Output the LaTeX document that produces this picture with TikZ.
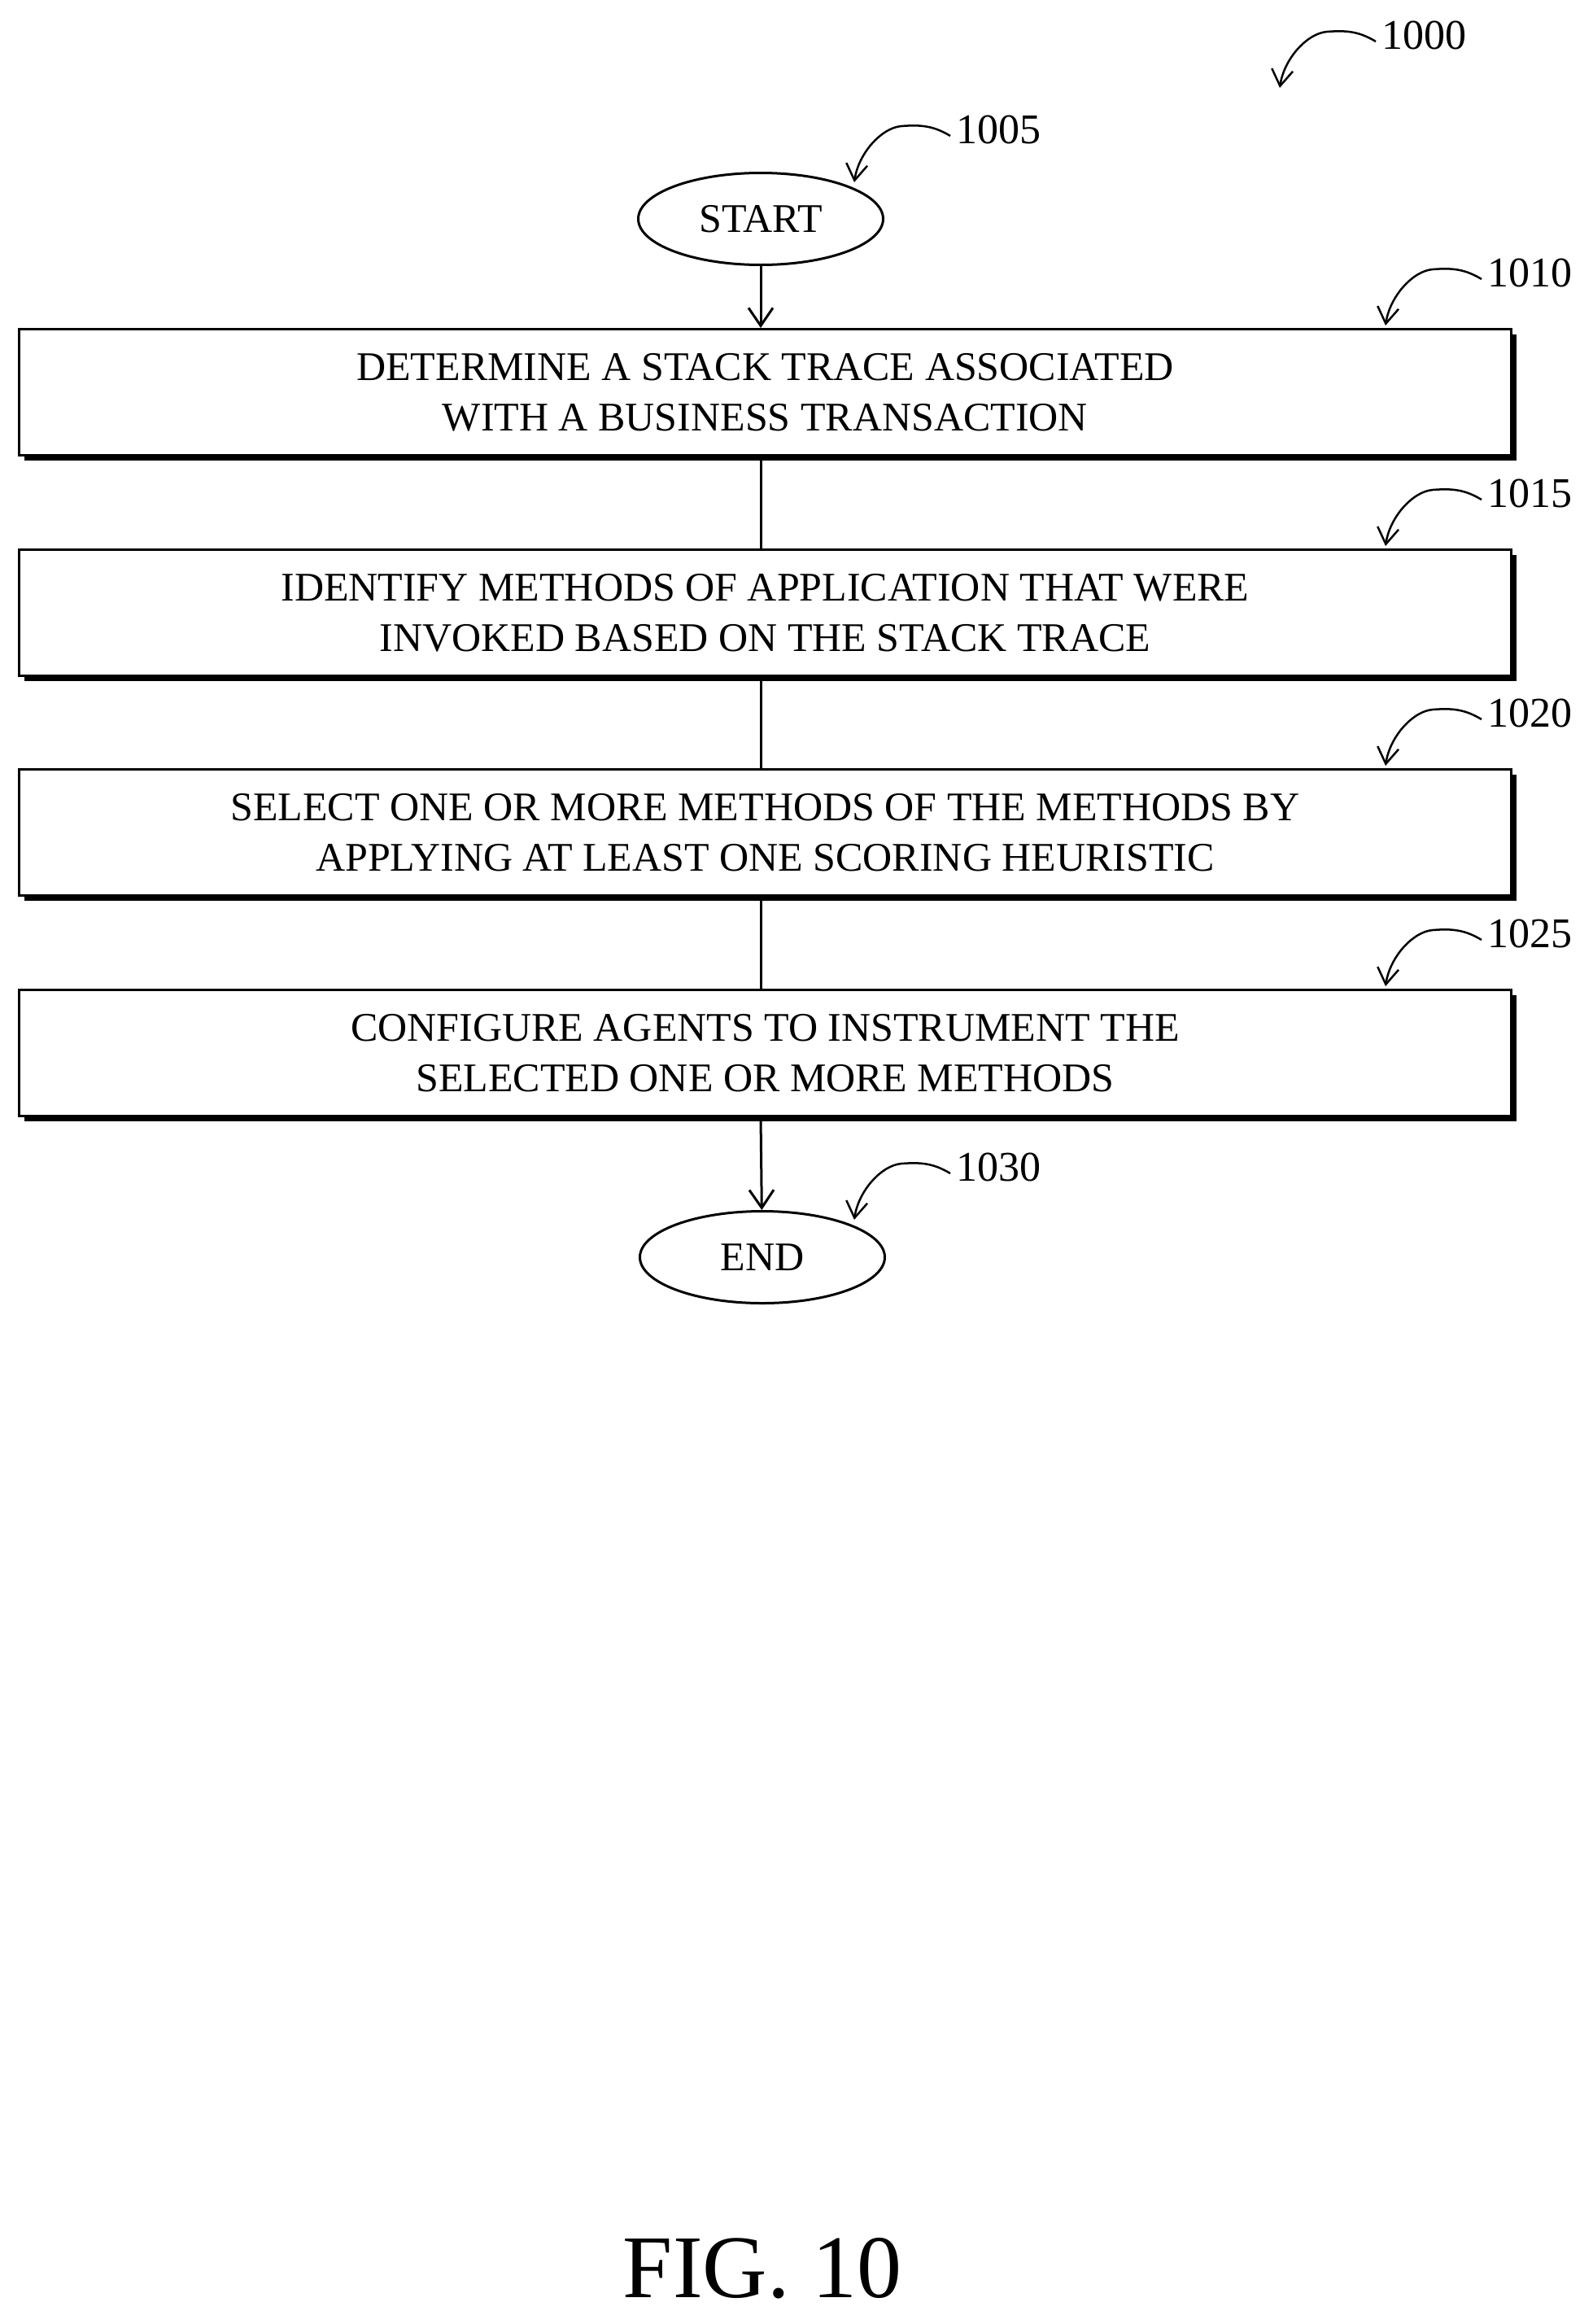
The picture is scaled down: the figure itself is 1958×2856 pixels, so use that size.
\documentclass[tikz,border=0pt]{standalone}
\usepackage{fontspec}
\setmainfont{Liberation Serif}
\usetikzlibrary{arrows.meta,shapes.geometric}
\begin{document}
\begin{tikzpicture}[x=1pt,y=-1pt,
  box/.style={draw,line width=3pt,fill=white,minimum width=1834pt,minimum height=155pt,align=center,font=\fontsize{50}{62}\selectfont},
  term/.style={draw,ellipse,line width=3pt,minimum width=301pt,minimum height=113pt,font=\fontsize{50}{60}\selectfont},
  lbl/.style={font=\fontsize{52}{60}\selectfont,anchor=west},
  flow/.style={line width=3pt},
  arr/.style={line width=3pt,-{Straight Barb[length=22pt,width=30pt,line width=3pt]}},
  sq/.style={line width=2.5pt,-{Straight Barb[length=20pt,width=26pt,line width=2.5pt]}}]
\useasboundingbox (0,0) rectangle (1958,2856);
\newcommand{\shbox}[4]{%
  \fill (#2+8,#3+8) rectangle +(1834,155);
  \node[box,anchor=north west] (#1) at (#2,#3) {#4};}
\newcommand{\squig}[4]{% name, start x, start y, label
  \coordinate (#1s) at (#2,#3);
  \coordinate (#1t) at (#2-118,#3+57);
  \draw[sq] (#1s) .. controls +(-20,-12) and +(25,-2) .. ++(-60,-12) .. controls +(-25,2) and +(5,-35) .. (#1t);
  \node[lbl] (#1l) at (#2+4,#3-8) {#4};}
\node[term] (start) at (935,269) {START};
\shbox{b1}{22}{403}{DETERMINE A STACK TRACE ASSOCIATED\\WITH A BUSINESS TRANSACTION}
\shbox{b2}{22}{674}{IDENTIFY METHODS OF APPLICATION THAT WERE\\INVOKED BASED ON THE STACK TRACE}
\shbox{b3}{22}{944}{SELECT ONE OR MORE METHODS OF THE METHODS BY\\APPLYING AT LEAST ONE SCORING HEURISTIC}
\shbox{b4}{22}{1215}{CONFIGURE AGENTS TO INSTRUMENT THE\\SELECTED ONE OR MORE METHODS}
\node[term] (end) at (937,1545) {END};
\draw[arr] (start) -- (start|-b1.north);
\draw[flow] (b1.south-|start) -- (b2.north-|start);
\draw[flow] (b2.south-|start) -- (b3.north-|start);
\draw[flow] (b3.south-|start) -- (b4.north-|start);
\draw[arr] (b4.south-|start) -- (end);
\squig{q0}{1691}{51}{1000}
\squig{q1}{1168}{167}{1005}
\squig{q2}{1821}{343}{1010}
\squig{q3}{1821}{614}{1015}
\squig{q4}{1821}{884}{1020}
\squig{q5}{1821}{1155}{1025}
\squig{q6}{1168}{1442}{1030}
\node[font=\fontsize{110}{120}\selectfont] (fig) at (937,2788) {FIG. 10};
\end{tikzpicture}
\end{document}
